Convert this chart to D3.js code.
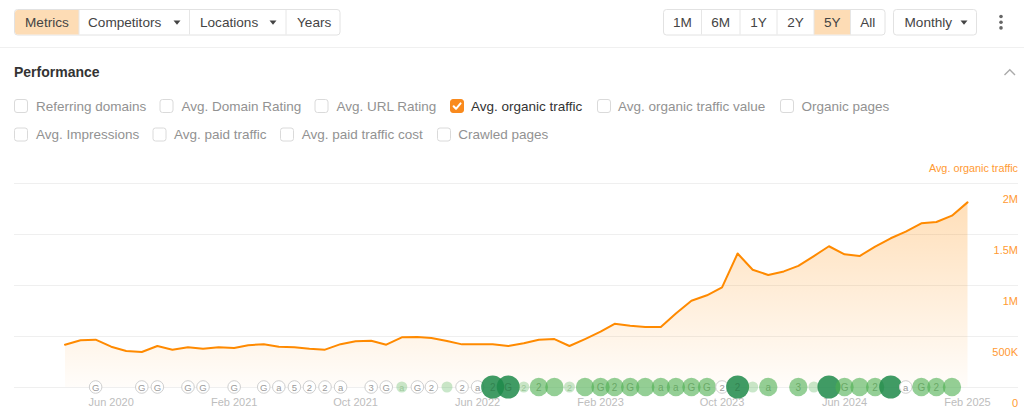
<!DOCTYPE html>
<html><head><meta charset="utf-8">
<script src="https://cdn.jsdelivr.net/npm/d3@7"></script>
<style>
body{margin:0;background:#fff;font-family:"Liberation Sans",Arial,sans-serif;}
svg{display:block}
</style>
</head><body>
<script>
// ---------- DATA ----------
const firstMonth = "2020-03";
const lastMonth = "2025-02";
// Avg. organic traffic, thousands, monthly Mar 2020 .. Feb 2025
const trafficK = [
  415, 458, 464, 395, 353, 343, 402, 366, 389, 375,
  389, 382, 409, 420, 395, 389, 375, 366, 420, 448,
  454, 415, 487, 490, 480, 451, 418, 418, 418, 402,
  428, 464, 470, 402, 470, 542, 620, 601, 588, 588,
  720, 846, 899, 977, 1309, 1150, 1098, 1133, 1188, 1284,
  1380, 1301, 1284, 1376, 1458, 1523, 1605, 1618, 1680, 1810
];
const xTickLabels = ["Jun 2020","Feb 2021","Oct 2021","Jun 2022","Feb 2023","Oct 2023","Jun 2024","Feb 2025"];
const yTickValues = [0, 500000, 1000000, 1500000, 2000000];
const yTickLabels = ["0","500K","1M","1.5M","2M"];
const seriesName = "Avg. organic traffic";
// annotation markers: month index, letter, kind (o=outline, p=pale, m=medium, d=dark)
const markerMonth = [2,5,6,8,9,11,13,14,15,16,17,18,20,21,22,23,24,25,26,27,28,29,30,31,32,33,34,35,36,37,38,39,40,41,42,43,44,45,46,48,49,50,51,52,53,54,55,56,57,58];
const markerLabel = ["G","G","G","G","G","G","G","a","5","2","2","a","3","G","a","G","2","","2","a","2","G","2","2","","2","","G","2","G","","a","a","G","G","2","2","","a","3","","","G","","2","","a","G","2",""];
const markerKind  = ["o","o","o","o","o","o","o","o","o","o","o","o","o","o","p","o","o","p","o","o","d","d","p","m","m","p","m","m","m","m","m","m","m","m","m","o","d","p","m","m","p","d","m","m","m","d","o","m","m","m"];
const leftButtons = ["Metrics","Competitors","Locations","Years"];
const rangeButtons = ["1M","6M","1Y","2Y","5Y","All"];
const intervalLabel = "Monthly";
const panelTitle = "Performance";
const metricsRow1 = ["Referring domains","Avg. Domain Rating","Avg. URL Rating","Avg. organic traffic","Avg. organic traffic value","Organic pages"];
const metricsRow2 = ["Avg. Impressions","Avg. paid traffic","Avg. paid traffic cost","Crawled pages"];
const checkedMetric = "Avg. organic traffic";

// ---------- SETUP ----------
const W = 1024, H = 411;
const svg = d3.select("body").append("svg").attr("width", W).attr("height", H)
  .style("font-family", '"Liberation Sans", Arial, sans-serif');

const ORANGE = "#ff8a00";
const PEACH = "#fddcb5";

// ---------- TOOLBAR ----------
function tri(g, cx, cy) {
  g.append("path").attr("d", `M${cx-3.5},${cy-2}L${cx+3.5},${cy-2}L${cx},${cy+2.2}Z`).attr("fill", "#444");
}
const tb = svg.append("g");
// left group
const leftEdges = [14.5, 79, 189.5, 286, 340];
tb.append("rect").attr("x", 14.5).attr("y", 9.5).attr("width", 325.5).attr("height", 25.5).attr("rx", 3)
  .attr("fill", "#fff").attr("stroke", "#e2e2e2");
tb.append("path").attr("d", "M17.5,10H79V34.5H17.5A3,3 0 0 1 15,32V12.5A3,3 0 0 1 17.5,10Z").attr("fill", PEACH);
[79, 189.5, 286].forEach(x => tb.append("line").attr("x1", x).attr("x2", x).attr("y1", 10).attr("y2", 34.5).attr("stroke", "#e6e6e6"));
const leftTextX = [25, 88, 200, 297];
leftButtons.forEach((t, i) => {
  tb.append("text").attr("x", leftTextX[i]).attr("y", 22.5).attr("dominant-baseline", "central")
    .attr("font-size", 13.6).attr("fill", "#444").text(t);
});
tri(tb, 177, 22.5); tri(tb, 273, 22.5);

// range group
const rEdges = [663.5, 701.5, 740, 777, 814, 850.5, 885];
tb.append("rect").attr("x", 663.5).attr("y", 9.5).attr("width", 221.5).attr("height", 25.5).attr("rx", 3)
  .attr("fill", "#fff").attr("stroke", "#e2e2e2");
tb.append("rect").attr("x", 814).attr("y", 10).attr("width", 36.5).attr("height", 24.5).attr("fill", PEACH);
rEdges.slice(1, -1).forEach(x => tb.append("line").attr("x1", x).attr("x2", x).attr("y1", 10).attr("y2", 34.5).attr("stroke", "#e6e6e6"));
rangeButtons.forEach((t, i) => {
  tb.append("text").attr("x", (rEdges[i] + rEdges[i+1]) / 2).attr("y", 22.5).attr("dominant-baseline", "central")
    .attr("text-anchor", "middle").attr("font-size", 13.6).attr("fill", "#444").text(t);
});
tb.append("rect").attr("x", 893.5).attr("y", 9.5).attr("width", 83).attr("height", 25.5).attr("rx", 3)
  .attr("fill", "#fff").attr("stroke", "#e2e2e2");
tb.append("text").attr("x", 904.5).attr("y", 22.5).attr("dominant-baseline", "central")
  .attr("font-size", 13.6).attr("fill", "#444").text(intervalLabel);
tri(tb, 964, 22.5);
[16.5, 22.2, 27.9].forEach(y => tb.append("circle").attr("cx", 1001).attr("cy", y).attr("r", 1.8).attr("fill", "#666"));

svg.append("line").attr("x1", 0).attr("x2", W).attr("y1", 47.5).attr("y2", 47.5).attr("stroke", "#f0f0f0");

// ---------- PANEL HEADER ----------
svg.append("text").attr("x", 14).attr("y", 72).attr("dominant-baseline", "central")
  .attr("font-size", 14).attr("font-weight", "bold").attr("fill", "#333").text(panelTitle);
svg.append("path").attr("d", "M1004.5,75L1009.8,69.7L1015,75").attr("fill", "none").attr("stroke", "#aaa").attr("stroke-width", 1.4);

function checkbox(x, cy, label, textX) {
  const checked = label === checkedMetric;
  svg.append("rect").attr("x", x + 0.5).attr("y", cy - 6.5).attr("width", 13).attr("height", 13).attr("rx", 2.5)
    .attr("fill", checked ? "#f98a1d" : "#fff").attr("stroke", checked ? "#f98a1d" : "#dadada");
  if (checked) {
    svg.append("path").attr("d", `M${x+3.6},${cy+0.2}L${x+6},${cy+2.8}L${x+10.6},${cy-2.6}`)
      .attr("fill", "none").attr("stroke", "#fff").attr("stroke-width", 2).attr("stroke-linecap", "round").attr("stroke-linejoin", "round");
  }
  svg.append("text").attr("x", textX).attr("y", cy).attr("dominant-baseline", "central")
    .attr("font-size", 13.5).attr("fill", checked ? "#333" : "#929292").text(label);
}
const row1Box = [14, 159.5, 314.5, 450, 597, 780];
const row1Text = [36, 181.5, 336.5, 471, 618, 801.5];
metricsRow1.forEach((l, i) => checkbox(row1Box[i], 106, l, row1Text[i]));
const row2Box = [14, 152.5, 280, 437];
const row2Text = [36, 174, 301.8, 458.3];
metricsRow2.forEach((l, i) => checkbox(row2Box[i], 134.5, l, row2Text[i]));

// ---------- CHART ----------
const parseM = d3.timeParse("%Y-%m");
const months = d3.timeMonth.range(parseM(firstMonth), d3.timeMonth.offset(parseM(lastMonth), 1));
const data = months.map((m, i) => ({ date: m, v: trafficK[i] * 1000 }));

const x = d3.scaleTime().domain([months[0], months[months.length - 1]]).range([65, 967.5]);
const y = d3.scaleLinear().domain([0, 2000000]).range([387, 183]);

const defs = svg.append("defs");
const grad = defs.append("linearGradient").attr("id", "areaGrad").attr("gradientUnits", "userSpaceOnUse")
  .attr("x1", 0).attr("x2", 0).attr("y1", y(2000000)).attr("y2", y(0));
grad.append("stop").attr("offset", 0).attr("stop-color", "#ff8a00").attr("stop-opacity", 0.3);
grad.append("stop").attr("offset", 1).attr("stop-color", "#ff8a00").attr("stop-opacity", 0.02);

// grid
svg.append("g").selectAll("line").data(yTickValues).join("line")
  .attr("x1", 14).attr("x2", 1018).attr("y1", d => Math.round(y(d)) + 0.5).attr("y2", d => Math.round(y(d)) + 0.5)
  .attr("stroke", "#efefef");

// y labels
svg.append("g").selectAll("text").data(yTickValues).join("text")
  .attr("x", 1018).attr("y", d => y(d) + 15.5).attr("text-anchor", "end").attr("dominant-baseline", "central")
  .attr("font-size", 11).attr("fill", "#ff9a33").text((d, i) => yTickLabels[i]);
svg.append("text").attr("x", 1018).attr("y", 167.5).attr("text-anchor", "end").attr("dominant-baseline", "central")
  .attr("font-size", 10.8).attr("fill", "#ff9a33").text(seriesName);

// area + line
svg.append("path").datum(data).attr("fill", "url(#areaGrad)")
  .attr("d", d3.area().x(d => x(d.date)).y0(y(0)).y1(d => y(d.v)));
svg.append("path").datum(data).attr("fill", "none").attr("stroke", ORANGE).attr("stroke-width", 2)
  .attr("stroke-linejoin", "round").attr("stroke-linecap", "round")
  .attr("d", d3.line().x(d => x(d.date)).y(d => y(d.v)));

// x labels
const parseL = d3.timeParse("%b %Y");
svg.append("g").selectAll("text").data(xTickLabels).join("text")
  .attr("x", d => x(parseL(d))).attr("y", 402).attr("text-anchor", "middle").attr("dominant-baseline", "central")
  .attr("font-size", 11).attr("fill", "#bdbdbd").text(d => d);

// markers
const kindStyle = {
  o: { r: 6.3, fill: "#fff", op: 1, stroke: "#cfcfcf", text: "#9a9a9a", fs: 9.5 },
  p: { r: 5.5, fill: "#4caf50", op: 0.3, stroke: "none", text: "#8fbf8b", fs: 9 },
  m: { r: 9.2, fill: "#4caf50", op: 0.6, stroke: "none", text: "#5f9f5a", fs: 10 },
  d: { r: 11.5, fill: "#1e8a4a", op: 0.85, stroke: "none", text: "#2f7d4c", fs: 10 }
};
const mk = svg.append("g");
markerMonth.forEach((mi, i) => {
  const s = kindStyle[markerKind[i]];
  const cx = x(months[mi]), cy = 387;
  mk.append("circle").attr("cx", cx).attr("cy", cy).attr("r", s.r)
    .attr("fill", s.fill).attr("fill-opacity", s.op).attr("stroke", s.stroke);
  if (markerLabel[i]) {
    mk.append("text").attr("x", cx).attr("y", cy + 0.5).attr("text-anchor", "middle").attr("dominant-baseline", "central")
      .attr("font-size", s.fs).attr("fill", s.text).attr("fill-opacity", markerKind[i] === "o" ? 1 : 0.8).text(markerLabel[i]);
  }
});
</script>
</body></html>
